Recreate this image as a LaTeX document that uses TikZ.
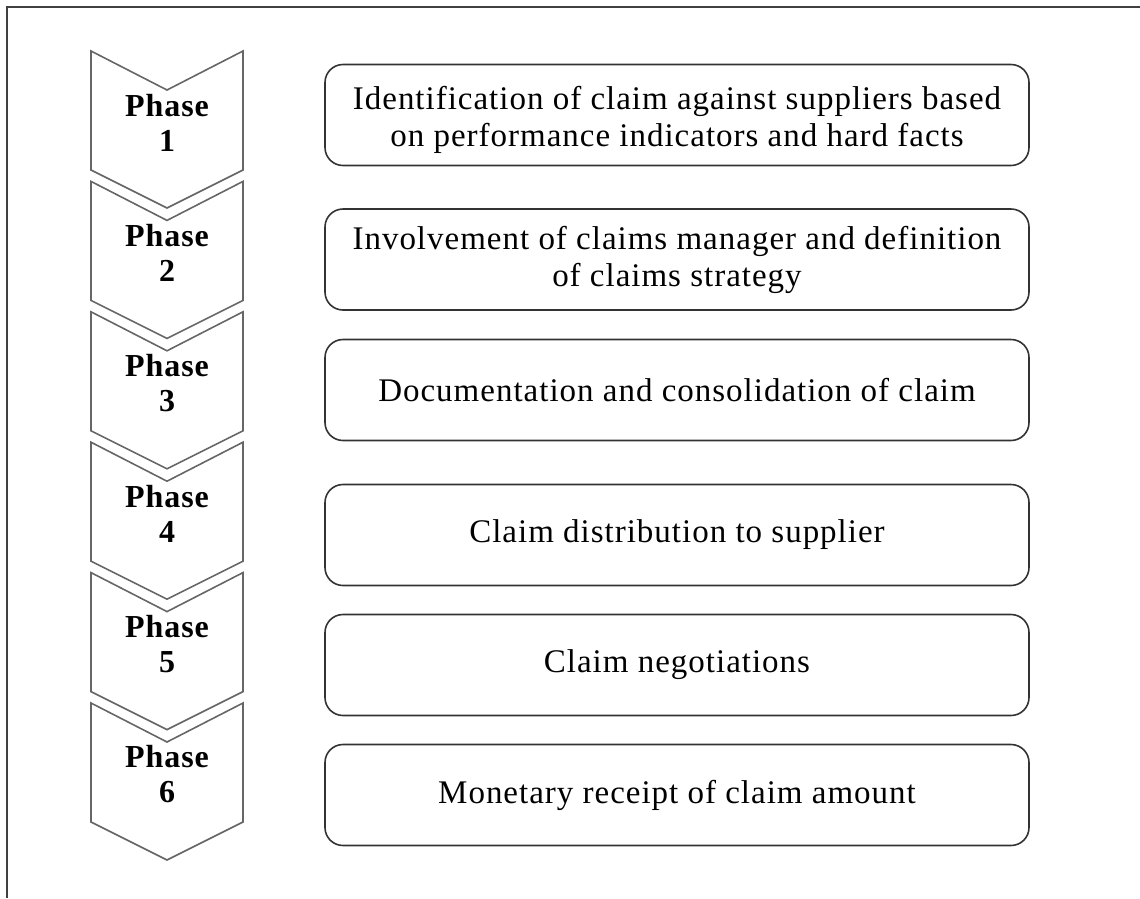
\documentclass[tikz,border=0pt]{standalone}
\usepackage{fontspec}
\setmainfont{Liberation Serif}[LetterSpace=3]
\begin{document}
\begin{tikzpicture}[x=1pt,y=-1pt,
  frame/.style={draw=black!75,line width=2.2pt},
  chev/.style={draw=black!60,line width=1.6pt,line join=miter},
  phaselbl/.style={font=\fontsize{32}{35}\selectfont\bfseries,align=center,inner sep=0pt},
  stepbox/.style={draw=black!80,line width=1.6pt,rounded corners=18pt,
    minimum width=704pt,minimum height=101pt,align=center,
    font=\fontsize{33}{37}\selectfont,inner sep=0pt},
  boxtext/.style={align=center,font=\fontsize{33}{37}\selectfont,inner sep=0pt}]
\useasboundingbox (0,0) rectangle (1140,898);
% outer frame (top and left edges)
\draw[frame] (7,898) -- (7,7) -- (1140,7);
% chevrons with phase labels
\foreach \i in {0,...,5}{
  \pgfmathsetmacro{\t}{51+130.4*\i}
  \draw[chev] (91,\t) -- (167,\t+39) -- (243,\t) -- (243,\t+119)
    -- (167,\t+157) -- (91,\t+119) -- cycle;
  \pgfmathtruncatemacro{\n}{\i+1}
  \node[phaselbl] (p\n) at (167,\t+71.5) {Phase\\\n};
}
% phase descriptions
\node[stepbox] (b1) at (677,115) {};
\node[boxtext] (t1) at (677,120) {Identification of claim against suppliers based\\on performance indicators and hard facts};
\node[stepbox] (b2) at (677,259.5) {Involvement of claims manager and definition\\of claims strategy};
\node[stepbox] (b3) at (677,390) {Documentation and consolidation of claim};
\node[stepbox] (b4) at (677,535) {Claim distribution to supplier};
\node[stepbox] (b5) at (677,665) {Claim negotiations};
\node[stepbox] (b6) at (677,795) {Monetary receipt of claim amount};
\end{tikzpicture}
\end{document}
